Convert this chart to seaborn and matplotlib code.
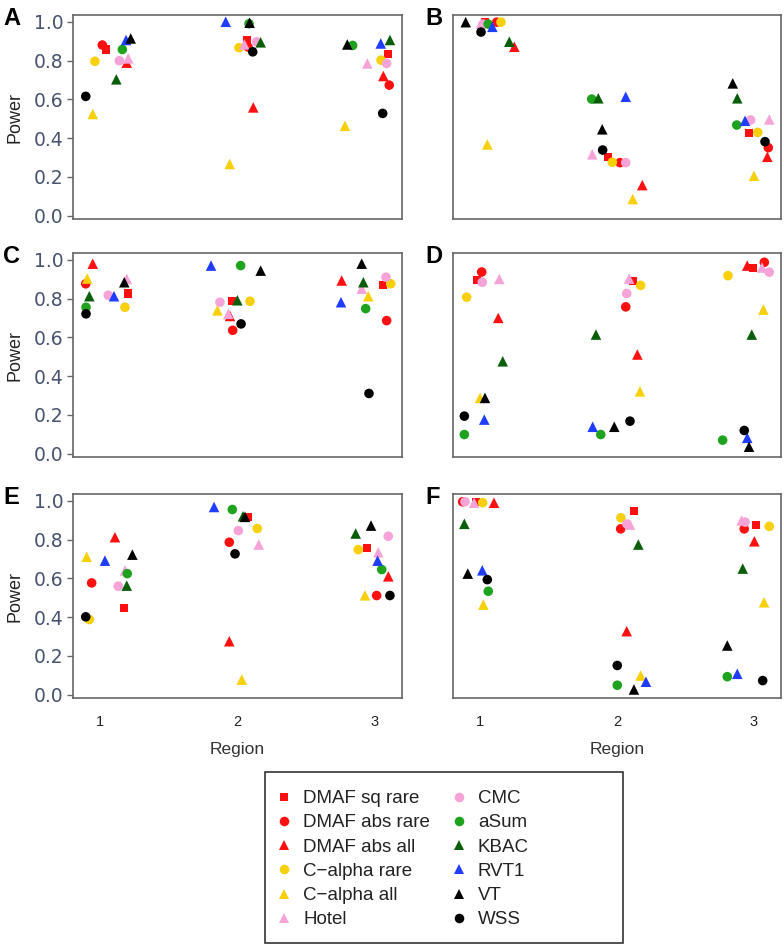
import numpy as np
import pandas as pd
import matplotlib
matplotlib.use("Agg")
import matplotlib.pyplot as plt
import seaborn as sns
from matplotlib.lines import Line2D
from matplotlib.patches import Rectangle

# ---------------- data ----------------
methods = ["DMAF sq rare", "DMAF abs rare", "DMAF abs all", "C\u2212alpha rare",
           "C\u2212alpha all", "Hotel", "CMC", "aSum", "KBAC", "RVT1", "VT", "WSS"]
regions = [1, 2, 3]
panel_names = ["A", "B", "C", "D", "E", "F"]
yticks = [0.0, 0.2, 0.4, 0.6, 0.8, 1.0]

# x positions (region + jitter) and power, one row per region, method order as above
A_x = [[1.039, 1.014, 1.192, 0.960, 0.944, 1.203, 1.138, 1.160, 1.116, 1.187, 1.221, 0.893],
       [2.067, 2.077, 2.115, 2.011, 1.943, 2.050, 2.140, 2.084, 2.169, 1.914, 2.088, 2.111],
       [3.096, 3.107, 3.064, 3.047, 2.784, 2.947, 3.088, 2.840, 3.112, 3.045, 2.801, 3.059]]
A_y = [[0.857, 0.880, 0.789, 0.796, 0.524, 0.811, 0.799, 0.857, 0.703, 0.906, 0.914, 0.615],
       [0.906, 0.870, 0.558, 0.866, 0.266, 0.883, 0.897, 0.990, 0.894, 1.000, 0.995, 0.845],
       [0.832, 0.673, 0.720, 0.802, 0.463, 0.785, 0.785, 0.878, 0.906, 0.888, 0.883, 0.527]]

B_x = [[1.034, 1.120, 1.249, 1.151, 1.051, 1.005, 1.020, 1.058, 1.212, 1.088, 0.893, 1.005],
       [1.936, 2.022, 2.185, 1.966, 2.115, 1.819, 2.064, 1.815, 1.863, 2.064, 1.892, 1.895],
       [2.966, 3.107, 3.100, 3.030, 3.002, 3.114, 2.978, 2.876, 2.880, 2.937, 2.847, 3.083]]
B_y = [[1.000, 0.998, 0.871, 0.998, 0.367, 0.990, 0.988, 0.988, 0.897, 0.974, 0.998, 0.947],
       [0.303, 0.273, 0.157, 0.275, 0.085, 0.316, 0.273, 0.601, 0.605, 0.613, 0.445, 0.338],
       [0.424, 0.350, 0.303, 0.429, 0.205, 0.496, 0.493, 0.467, 0.605, 0.489, 0.682, 0.381]]

C_x = [[1.199, 0.893, 0.944, 1.179, 0.904, 1.192, 1.057, 0.895, 0.919, 1.099, 1.174, 0.895],
       [1.962, 1.965, 1.945, 2.091, 1.853, 1.933, 1.872, 2.023, 1.999, 1.807, 2.169, 2.026],
       [3.064, 3.088, 2.760, 3.118, 2.954, 2.906, 3.083, 2.935, 2.918, 2.755, 2.906, 2.959]]
C_y = [[0.826, 0.876, 0.980, 0.755, 0.903, 0.901, 0.817, 0.755, 0.812, 0.812, 0.884, 0.721],
       [0.789, 0.636, 0.710, 0.786, 0.739, 0.721, 0.781, 0.970, 0.791, 0.970, 0.944, 0.669],
       [0.868, 0.686, 0.893, 0.876, 0.812, 0.851, 0.910, 0.748, 0.884, 0.781, 0.980, 0.310]]

D_x = [[0.973, 1.010, 1.131, 0.900, 0.998, 1.139, 1.014, 0.883, 1.164, 1.029, 1.034, 0.883],
       [2.119, 2.064, 2.149, 2.173, 2.168, 2.088, 2.071, 1.881, 1.846, 1.822, 1.980, 2.095],
       [2.993, 3.078, 2.953, 2.812, 3.071, 3.061, 3.114, 2.773, 2.986, 2.953, 2.966, 2.931]]
D_y = [[0.894, 0.937, 0.700, 0.807, 0.287, 0.901, 0.884, 0.098, 0.476, 0.175, 0.287, 0.193],
       [0.889, 0.757, 0.511, 0.868, 0.321, 0.903, 0.826, 0.098, 0.614, 0.138, 0.138, 0.167],
       [0.958, 0.987, 0.970, 0.918, 0.743, 0.960, 0.936, 0.069, 0.614, 0.081, 0.035, 0.119]]

E_x = [[1.174, 0.936, 1.106, 0.919, 0.900, 1.179, 1.130, 1.196, 1.192, 1.033, 1.233, 0.893],
       [2.079, 1.940, 1.940, 2.144, 2.031, 2.155, 2.006, 1.962, 2.040, 1.829, 2.055, 1.982],
       [2.942, 3.015, 3.100, 2.881, 2.930, 3.027, 3.100, 3.052, 2.862, 3.022, 2.974, 3.112]]
E_y = [[0.447, 0.576, 0.812, 0.387, 0.711, 0.640, 0.559, 0.624, 0.562, 0.691, 0.722, 0.401],
       [0.917, 0.786, 0.275, 0.857, 0.077, 0.774, 0.846, 0.955, 0.920, 0.968, 0.917, 0.726],
       [0.757, 0.511, 0.610, 0.748, 0.512, 0.734, 0.817, 0.645, 0.831, 0.691, 0.872, 0.511]]

F_x = [[0.966, 0.871, 1.100, 1.017, 1.022, 0.954, 0.888, 1.058, 0.883, 1.014, 0.908, 1.051],
       [2.124, 2.027, 2.071, 2.029, 2.173, 2.095, 2.073, 2.002, 2.156, 2.212, 2.124, 2.002],
       [3.017, 2.931, 3.005, 3.114, 3.076, 2.912, 2.937, 2.807, 2.920, 2.880, 2.807, 3.066]]
F_y = [[0.995, 0.995, 0.990, 0.990, 0.464, 0.990, 0.995, 0.533, 0.881, 0.641, 0.624, 0.593],
       [0.946, 0.855, 0.327, 0.912, 0.098, 0.877, 0.880, 0.048, 0.774, 0.066, 0.026, 0.150],
       [0.877, 0.855, 0.791, 0.868, 0.476, 0.899, 0.890, 0.092, 0.650, 0.107, 0.253, 0.072]]

# ---------------- styles ----------------
RED, GOLD, PINK = "#FF1010", "#F7D00A", "#F6A3D8"
GREEN, DKGREEN, BLUE, BLACK = "#1FA31F", "#0A5E0A", "#1F3CFF", "#000000"
colors = [RED, RED, RED, GOLD, GOLD, PINK, PINK, GREEN, DKGREEN, BLUE, BLACK, BLACK]
marks = ["s", "o", "^", "o", "^", "^", "o", "o", "^", "^", "^", "o"]
msize = {"s": 5.8, "o": 6.9, "^": 7.6}

palette = dict(zip(methods, colors))
marker_map = dict(zip(methods, marks))
size_map = {m: msize[k] ** 2 for m, k in zip(methods, marks)}

rows = []
for p, X, Y in zip(panel_names, [A_x, B_x, C_x, D_x, E_x, F_x], [A_y, B_y, C_y, D_y, E_y, F_y]):
    for r, reg in enumerate(regions):
        for m, meth in enumerate(methods):
            rows.append({"panel": p, "region": reg, "method": meth,
                         "x": X[r][m], "power": Y[r][m]})
df = pd.DataFrame(rows)

sns.set_style("white")
plt.rcParams["font.family"] = ["Liberation Sans", "DejaVu Sans"]

W, H = 784, 946
fig = plt.figure(figsize=(W / 100, H / 100), dpi=100)

def fpos(x0, y0, w, h):
    return [x0 / W, 1 - (y0 + h) / H, w / W, h / H]

col_x = [(73, 329), (453, 328)]
row_y = [15, 253, 494]
ph = 204
SPINE = "#666666"

for i, p in enumerate(panel_names):
    r, c = divmod(i, 2)
    x0, w = col_x[c]
    ax = fig.add_axes(fpos(x0, row_y[r], w, ph))
    sub = df[df.panel == p]
    sns.scatterplot(data=sub, x="x", y="power", hue="method", style="method",
                    size="method", hue_order=methods, style_order=methods,
                    size_order=methods, palette=palette, markers=marker_map,
                    sizes=size_map, linewidth=0, legend=False, ax=ax, zorder=3)
    ax.set_xlim(0.8, 3.2)
    ax.set_ylim(-0.018, 1.035)
    for s in ax.spines.values():
        s.set_visible(True)
        s.set_color(SPINE)
        s.set_linewidth(1.2)
    ax.set_xlabel("")
    ax.set_ylabel("")
    if c == 0:
        ax.set_yticks(yticks)
        ax.set_yticklabels([f"{v:.1f}" for v in yticks], family="DejaVu Sans",
                           fontsize=13.5, color="#46526e")
        ax.tick_params(axis="y", left=True, length=4, width=1, color=SPINE, pad=3)
        ax.set_ylabel("Power", fontsize=13, color="#222222")
        ax.yaxis.set_label_coords(-0.15, 0.5)
    else:
        ax.set_yticks([])
    if r == 2:
        ax.set_xticks(regions)
        ax.set_xticklabels([str(v) for v in regions], fontsize=10.5, color="#222222")
        ax.tick_params(axis="x", bottom=True, length=0, pad=12)
        ax.set_xlabel("Region", fontsize=12.5, color="#333333")
        ax.xaxis.set_label_coords(0.5, -0.215)
    else:
        ax.set_xticks([])
    # panel letter
    fig.text((3 if c == 0 else 425) / W, 1 - (row_y[r] + 10) / H, p,
             fontsize=17, fontweight="bold", va="baseline", ha="left", color="black")

handles = [Line2D([], [], marker=mk, linestyle="", color=col, markeredgewidth=0,
                  markersize=msize[mk]) for mk, col in zip(marks, colors)]
fig.legend(handles, methods, ncol=2, loc="upper left",
           bbox_to_anchor=(275 / W, 1 - 790 / H), frameon=False, fontsize=13.5,
           handlelength=1.0, handletextpad=0.5, columnspacing=1.05,
           labelspacing=0.38, borderpad=0, borderaxespad=0, labelcolor="#222222")
fig.add_artist(Rectangle((265 / W, 1 - 943 / H), 358 / W, 171 / H,
                         transform=fig.transFigure, fill=False,
                         edgecolor="#333333", linewidth=1.2))

fig.savefig("out.png", dpi=100)
